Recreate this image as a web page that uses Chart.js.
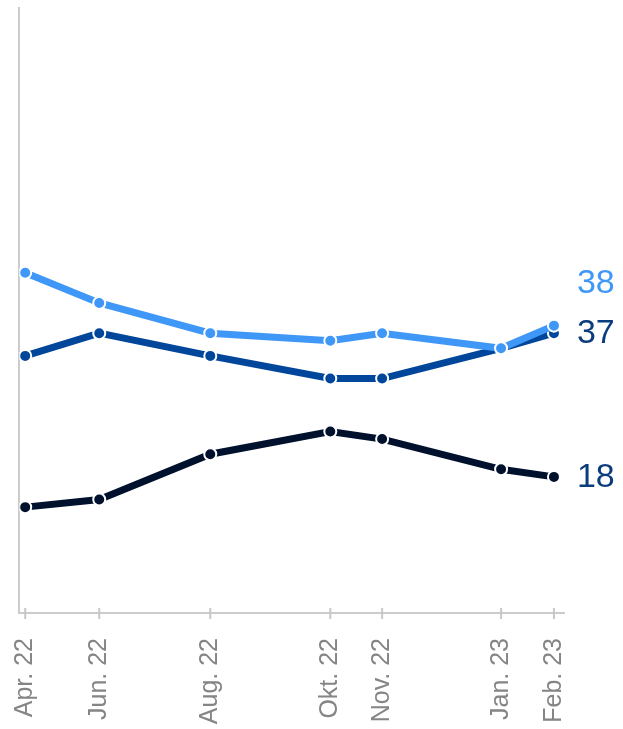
<!DOCTYPE html>
<html lang="de">
<head>
    <meta charset="UTF-8">
    <title>Verlauf Apr. 22 – Feb. 23</title>
    <script src="https://cdn.jsdelivr.net/npm/chart.js"></script>
    <style>
        body {
            margin: 0;
            background: #ffffff;
        }
        canvas {
            display: block;
        }
    </style>
</head>
<body>
    <canvas id="trendChart" width="623" height="729"></canvas>

    <script>
        // Erhebungszeitpunkte (Monate ab Apr. 22) und Achsenbeschriftung
        const surveyPos = [0, 1.4, 3.5, 5.77, 6.75, 9, 10];
        const tickLabels = ['Apr. 22', 'Jun. 22', 'Aug. 22', 'Okt. 22', 'Nov. 22', 'Jan. 23', 'Feb. 23'];

        // Werte je Reihe
        const seriesLight = [45, 41, 37, 36, 37, 35, 38];
        const seriesMid = [34, 37, 34, 31, 31, 35, 37];
        const seriesDark = [14, 15, 21, 24, 23, 19, 18];

        const FONT = '"Liberation Sans", Arial, sans-serif';

        function toPoints(values) {
            return values.map((v, i) => ({ x: surveyPos[i], y: v }));
        }

        function makeSet(values, color, labelColor, labelDy) {
            return {
                data: toPoints(values),
                borderColor: color,
                backgroundColor: color,
                pointBackgroundColor: color,
                pointBorderColor: '#ffffff',
                pointBorderWidth: 2,
                pointRadius: 6,
                borderWidth: 7,
                tension: 0,
                labelColor: labelColor,
                labelDy: labelDy
            };
        }

        // Kleine Kreuze auf der x-Achse an jedem Zeitpunkt
        const tickCross = {
            id: 'tickCross',
            afterDraw(chart) {
                const ctx = chart.ctx;
                const xs = chart.scales.x;
                const yBase = chart.chartArea.bottom;
                ctx.save();
                ctx.strokeStyle = '#c8c8c8';
                ctx.lineWidth = 2;
                surveyPos.forEach(v => {
                    const px = xs.getPixelForValue(v);
                    ctx.beginPath();
                    ctx.moveTo(px, yBase - 5);
                    ctx.lineTo(px, yBase + 6);
                    ctx.stroke();
                });
                ctx.restore();
            }
        };

        // Letzter Wert rechts neben jeder Linie
        const endLabels = {
            id: 'endLabels',
            afterDatasetsDraw(chart) {
                const ctx = chart.ctx;
                ctx.save();
                ctx.font = '34px ' + FONT;
                ctx.textAlign = 'left';
                ctx.textBaseline = 'middle';
                chart.data.datasets.forEach((ds, i) => {
                    const meta = chart.getDatasetMeta(i);
                    const last = meta.data[meta.data.length - 1];
                    const val = ds.data[ds.data.length - 1].y;
                    ctx.fillStyle = ds.labelColor;
                    ctx.fillText(String(val), last.x + 23, last.y + ds.labelDy);
                });
                ctx.restore();
            }
        };

        const ctx = document.getElementById('trendChart').getContext('2d');
        new Chart(ctx, {
            type: 'line',
            data: {
                datasets: [
                    makeSet(seriesLight, '#3f97f7', '#3f97f7', -42),
                    makeSet(seriesMid, '#00469b', '#0b3d7e', 0),
                    makeSet(seriesDark, '#00112d', '#0b3d7e', 1)
                ]
            },
            options: {
                responsive: false,
                animation: false,
                layout: {
                    padding: { left: 19, top: 7, right: 59, bottom: 0 }
                },
                plugins: {
                    legend: { display: false },
                    tooltip: { enabled: false }
                },
                scales: {
                    x: {
                        type: 'linear',
                        min: -0.113,
                        max: 10.19,
                        afterBuildTicks(scale) {
                            scale.ticks = surveyPos.map(v => ({ value: v }));
                        },
                        afterFit(scale) {
                            scale.height = 116;
                        },
                        grid: { drawOnChartArea: false, drawTicks: false },
                        border: { display: true, color: '#cccccc', width: 2 },
                        ticks: {
                            autoSkip: false,
                            minRotation: 90,
                            maxRotation: 90,
                            padding: 25,
                            color: '#858585',
                            font: { family: FONT, size: 25 },
                            callback: (value, index) => tickLabels[index]
                        }
                    },
                    y: {
                        min: 0,
                        max: 80,
                        afterFit(scale) {
                            scale.width = 0;
                        },
                        grid: { drawOnChartArea: false, drawTicks: false },
                        border: { display: true, color: '#cccccc', width: 2 },
                        ticks: { display: false }
                    }
                }
            },
            plugins: [tickCross, endLabels]
        });
    </script>
</body>
</html>
